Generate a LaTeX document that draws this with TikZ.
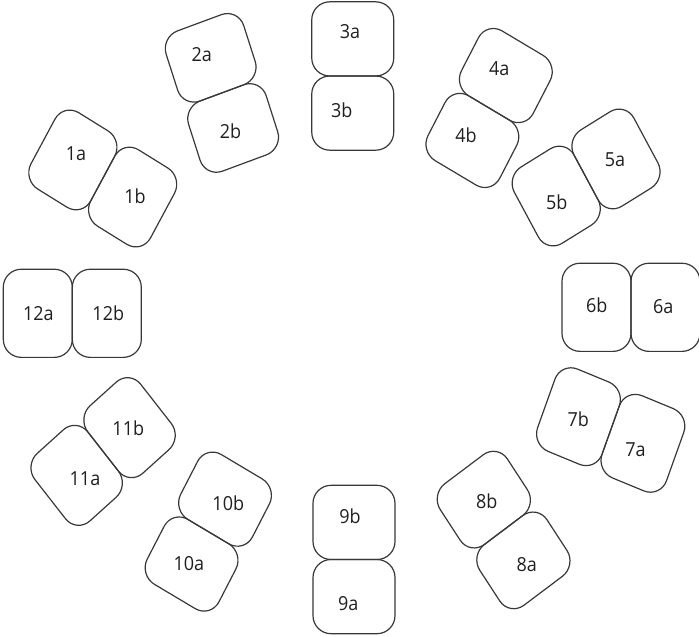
\documentclass[tikz,border=0pt]{standalone}
\usepackage{fontspec}
\setmainfont{Open Sans}
\begin{document}
\begin{tikzpicture}[x=1pt,y=-1pt,
  tile/.style={draw=black!78, line width=1.2pt, rounded corners=18pt,
    minimum width=82pt, minimum height=69pt, inner sep=0pt, yscale=1.075},
  tag/.style={font=\fontsize{18}{18}\selectfont, text=black!88,
    inner sep=0pt, yscale=1.075}]
\useasboundingbox (0,0) rectangle (699,637);

% tiles, one pair per position around the ring (a outer, b inner)
\node[tile, rotate=60]   (t1a)  at (72.87,159.96) {};
\node[tile, rotate=60]   (t1b)  at (132.63,197.04) {};
\node[tile, rotate=19]   (t2a)  at (210.67,57.83) {};
\node[tile, rotate=19]   (t2b)  at (233.13,127.97) {};
\node[tile, rotate=0]    (t3a)  at (352.75,38.91) {};
\node[tile, rotate=0]    (t3b)  at (352.75,113.09) {};
\node[tile, rotate=-29]  (t4a)  at (505.83,75.56) {};
\node[tile, rotate=-29]  (t4b)  at (472.37,140.44) {};
\node[tile, rotate=-60]  (t5a)  at (615.98,158.96) {};
\node[tile, rotate=-60]  (t5b)  at (556.22,196.04) {};
\node[tile, rotate=-90]  (t6a)  at (665.5,307.3) {};
\node[tile, rotate=-90]  (t6b)  at (596.5,307.3) {};
\node[tile, rotate=-111] (t7a)  at (642.91,443.29) {};
\node[tile, rotate=-111] (t7b)  at (578.49,416.71) {};
\node[tile, rotate=-145] (t8a)  at (523.39,560.38) {};
\node[tile, rotate=-145] (t8b)  at (483.81,499.62) {};
\node[tile, rotate=0]    (t9a)  at (354,596.59) {};
\node[tile, rotate=0]    (t9b)  at (354,522.41) {};
\node[tile, rotate=-29]  (t10a) at (191.57,564.04) {};
\node[tile, rotate=-29]  (t10b) at (225.03,499.16) {};
\node[tile, rotate=-50]  (t11a) at (76.67,475.34) {};
\node[tile, rotate=-50]  (t11b) at (129.53,427.66) {};
\node[tile, rotate=90]   (t12a) at (37.8,313.3) {};
\node[tile, rotate=90]   (t12b) at (106.8,313.3) {};

% labels
\node[tag] (l1a)  at (76,153.3)   {1a};
\node[tag] (l1b)  at (135,196.7)  {1b};
\node[tag] (l2a)  at (201.7,55)   {2a};
\node[tag] (l2b)  at (230.5,131.7) {2b};
\node[tag] (l3a)  at (350,31.7)   {3a};
\node[tag] (l3b)  at (341.7,110)  {3b};
\node[tag] (l4a)  at (499.2,68.3) {4a};
\node[tag] (l4b)  at (466,135)    {4b};
\node[tag] (l5a)  at (615,160)    {5a};
\node[tag] (l5b)  at (556.7,202.7) {5b};
\node[tag] (l6b)  at (596.7,305)  {6b};
\node[tag] (l6a)  at (663.3,306.7) {6a};
\node[tag] (l7b)  at (578.3,419.6) {7b};
\node[tag] (l7a)  at (635.5,449.6) {7a};
\node[tag] (l8b)  at (486.7,501.7) {8b};
\node[tag] (l8a)  at (526.7,565)  {8a};
\node[tag] (l9b)  at (350,516.7)  {9b};
\node[tag] (l9a)  at (348.3,603.3) {9a};
\node[tag] (l10b) at (228.3,503.3) {10b};
\node[tag] (l10a) at (188.8,563.3) {10a};
\node[tag] (l11b) at (128.3,428.3) {11b};
\node[tag] (l11a) at (85,478.3)   {11a};
\node[tag] (l12a) at (38.3,314)   {12a};
\node[tag] (l12b) at (108.3,313.3) {12b};
\end{tikzpicture}
\end{document}
